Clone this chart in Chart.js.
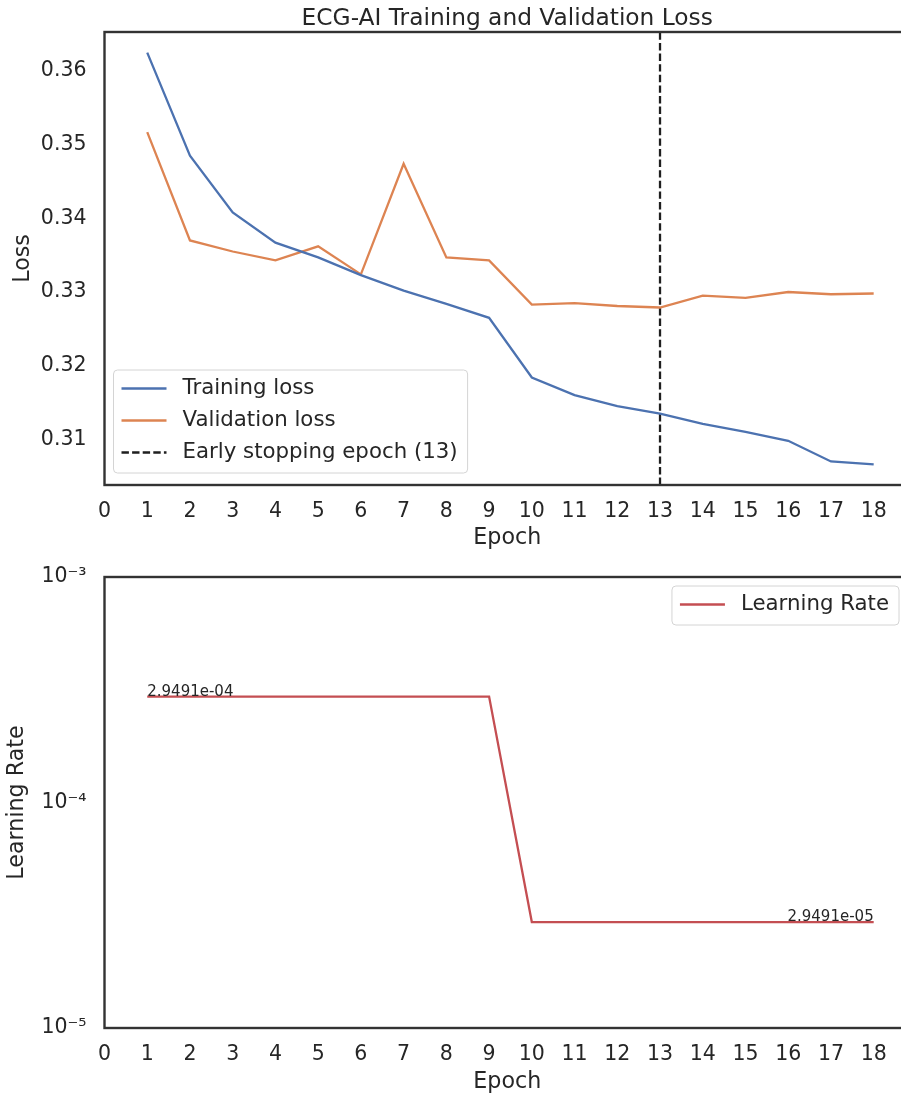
<!DOCTYPE html>
<html>
<head>
<meta charset="utf-8">
<title>ECG-AI Training and Validation Loss</title>
<script src="https://cdn.jsdelivr.net/npm/chart.js@4.4.0/dist/chart.umd.min.js"></script>
<style>
  html, body { margin: 0; padding: 0; background: #fff; overflow: hidden; width: 901px; height: 1099px; }
  .panel { position: absolute; left: 0; }
  #lossPanel { top: 0; }
  #lrPanel { top: 550px; }
  canvas { display: block; }
</style>
</head>
<body>
<div class="panel" id="lossPanel"><canvas id="lossChart" width="920" height="550"></canvas></div>
<div class="panel" id="lrPanel"><canvas id="lrChart" width="920" height="549"></canvas></div>
<script>
// ---- data ----
const epochs = [1, 2, 3, 4, 5, 6, 7, 8, 9, 10, 11, 12, 13, 14, 15, 16, 17, 18];
const trainingLoss = [0.3625, 0.3485, 0.3408, 0.3367, 0.3347, 0.3323, 0.3302, 0.3284, 0.3265,
                      0.3184, 0.3160, 0.3145, 0.3135, 0.3121, 0.3110, 0.3098, 0.3070, 0.3066];
const validationLoss = [0.3517, 0.3370, 0.3355, 0.3343, 0.3362, 0.3324, 0.3474, 0.3347, 0.3343,
                        0.3283, 0.3285, 0.3281, 0.3279, 0.3295, 0.3292, 0.3300, 0.3297, 0.3298];
const learningRate = [2.9491e-4, 2.9491e-4, 2.9491e-4, 2.9491e-4, 2.9491e-4, 2.9491e-4, 2.9491e-4, 2.9491e-4, 2.9491e-4,
                      2.9491e-5, 2.9491e-5, 2.9491e-5, 2.9491e-5, 2.9491e-5, 2.9491e-5, 2.9491e-5, 2.9491e-5, 2.9491e-5];
const earlyStopEpoch = 13;
const epochTicks = [0, 1, 2, 3, 4, 5, 6, 7, 8, 9, 10, 11, 12, 13, 14, 15, 16, 17, 18];
const lossTicks = [0.31, 0.32, 0.33, 0.34, 0.35, 0.36];
const lrTicks = [1e-5, 1e-4, 1e-3];

// ---- style ----
const FONT = "'DejaVu Sans', 'Liberation Sans', sans-serif";
const INK = '#262626';
const SPINE = '#333333';
const BLUE = '#4C72B0';
const ORANGE = '#DD8452';
const RED = '#C44E52';
const TICK_SIZE = 20.5;
const LABEL_SIZE = 22.2;
const LEGEND_SIZE = 21.3;

// axis ranges padded by 5% of the data span
const lossAll = trainingLoss.concat(validationLoss);
const lossLo = Math.min(...lossAll), lossHi = Math.max(...lossAll);
const lossPad = (lossHi - lossLo) * 0.05;
const yMin = lossLo - lossPad, yMax = lossHi + lossPad;
const xMax = epochs[epochs.length - 1] + (epochs[epochs.length - 1] - epochs[0]) * 0.05;

const pts = (ys) => epochs.map((e, i) => ({ x: e, y: ys[i] }));

const SUP = { '-': '\u207B', '0': '\u2070', '1': '\u00B9', '2': '\u00B2', '3': '\u00B3', '4': '\u2074',
              '5': '\u2075', '6': '\u2076', '7': '\u2077', '8': '\u2078', '9': '\u2079' };
function powerOfTen(v) {
  const e = String(Math.round(Math.log10(v)));
  return '10' + e.split('').map(c => SUP[c]).join('');
}
function sci(v) {
  const [m, e] = v.toExponential(4).split('e');
  const n = parseInt(e, 10);
  return m + 'e' + (n < 0 ? '-' : '+') + String(Math.abs(n)).padStart(2, '0');
}

// ---- plugins ----
const frame = {
  id: 'frame',
  afterDatasetsDraw(chart) {
    const { ctx, chartArea: a } = chart;
    ctx.save();
    ctx.strokeStyle = SPINE;
    ctx.lineWidth = 2.4;
    ctx.strokeRect(a.left, a.top, a.right - a.left, a.bottom - a.top);
    ctx.restore();
  }
};

const axesTitle = {
  id: 'axesTitle',
  afterDraw(chart, args, opts) {
    if (!opts.text) return;
    const { ctx, chartArea: a } = chart;
    ctx.save();
    ctx.font = opts.size + 'px ' + FONT;
    ctx.fillStyle = INK;
    ctx.textAlign = 'center';
    ctx.textBaseline = 'alphabetic';
    ctx.fillText(opts.text, (a.left + a.right) / 2, opts.baseline);
    ctx.restore();
  }
};

const boxLegend = {
  id: 'boxLegend',
  afterDraw(chart, args, opts) {
    const { ctx, chartArea: a } = chart;
    const items = chart.data.datasets.filter(d => d.label);
    ctx.save();
    ctx.font = LEGEND_SIZE + 'px ' + FONT;
    const textW = Math.max(...items.map(d => ctx.measureText(d.label).width));
    const w = 69 + textW + 10;
    const h = 39 + (items.length - 1) * 32;
    const x0 = opts.corner === 'lowerLeft' ? a.left + opts.dx : a.right - opts.dx - w;
    const y0 = opts.corner === 'lowerLeft' ? a.bottom - opts.dy - h : a.top + opts.dy;
    ctx.beginPath();
    ctx.roundRect(x0, y0, w, h, 4);
    ctx.fillStyle = 'rgba(255,255,255,0.8)';
    ctx.fill();
    ctx.strokeStyle = '#d4d4d4';
    ctx.lineWidth = 1;
    ctx.stroke();
    items.forEach((d, i) => {
      const y = y0 + 18.5 + i * 32;
      ctx.beginPath();
      ctx.setLineDash(d.borderDash || []);
      ctx.strokeStyle = d.borderColor;
      ctx.lineWidth = d.borderWidth;
      ctx.moveTo(x0 + 8, y);
      ctx.lineTo(x0 + 53, y);
      ctx.stroke();
      ctx.setLineDash([]);
      ctx.fillStyle = INK;
      ctx.textAlign = 'left';
      ctx.textBaseline = 'middle';
      ctx.fillText(d.label, x0 + 69, y);
    });
    ctx.restore();
  }
};

const endLabels = {
  id: 'endLabels',
  afterDatasetsDraw(chart) {
    const { ctx } = chart;
    const ds = chart.data.datasets[0];
    const meta = chart.getDatasetMeta(0);
    const first = meta.data[0], last = meta.data[meta.data.length - 1];
    ctx.save();
    ctx.font = '15px ' + FONT;
    ctx.fillStyle = INK;
    ctx.textBaseline = 'alphabetic';
    ctx.textAlign = 'left';
    ctx.fillText(sci(ds.data[0].y), first.x, first.y - 1);
    ctx.textAlign = 'right';
    ctx.fillText(sci(ds.data[ds.data.length - 1].y), last.x, last.y - 1);
    ctx.restore();
  }
};

function epochAxis(height, titlePadBottom) {
  return {
    type: 'linear',
    min: 0,
    max: xMax,
    grid: { display: false, drawTicks: false },
    border: { display: false },
    afterBuildTicks: (s) => { s.ticks = epochTicks.map(v => ({ value: v })); },
    afterFit: (s) => { s.height = height; s.paddingLeft = 0; s.paddingRight = 0; },
    ticks: { color: INK, font: { family: FONT, size: TICK_SIZE }, padding: 14, maxRotation: 0, autoSkip: false,
             callback: (v) => String(v) },
    title: { display: true, text: 'Epoch', color: INK, font: { family: FONT, size: LABEL_SIZE },
             padding: { top: 0, bottom: titlePadBottom } }
  };
}

// y axes keep a fixed gutter; edge-label overflow must not push the plot area
function fixYGutter(s) { s.width = 104.5; s.paddingTop = 0; s.paddingBottom = 0; }

Chart.defaults.font.family = FONT;
Chart.defaults.color = INK;

// ---- loss panel ----
new Chart(document.getElementById('lossChart'), {
  type: 'line',
  data: {
    datasets: [
      { label: 'Training loss', data: pts(trainingLoss), borderColor: BLUE, borderWidth: 2.3,
        pointRadius: 0, tension: 0, fill: false },
      { label: 'Validation loss', data: pts(validationLoss), borderColor: ORANGE, borderWidth: 2.3,
        pointRadius: 0, tension: 0, fill: false },
      { label: 'Early stopping epoch (' + earlyStopEpoch + ')',
        data: [{ x: earlyStopEpoch, y: yMin }, { x: earlyStopEpoch, y: yMax }],
        borderColor: '#1f1f1f', borderWidth: 2.3, borderDash: [7.4, 3.2], pointRadius: 0, fill: false }
    ]
  },
  options: {
    responsive: false,
    animation: false,
    events: [],
    layout: { padding: { top: 32, right: 10, left: 0, bottom: 0 } },
    plugins: {
      legend: { display: false },
      tooltip: { enabled: false },
      axesTitle: { text: 'ECG-AI Training and Validation Loss', size: 23.3, baseline: 25 },
      boxLegend: { corner: 'lowerLeft', dx: 9, dy: 12 }
    },
    scales: {
      x: epochAxis(65, -1.3),
      y: {
        type: 'linear',
        min: yMin,
        max: yMax,
        grid: { display: false, drawTicks: false },
        border: { display: false },
        afterBuildTicks: (s) => { s.ticks = lossTicks.map(v => ({ value: v })); },
        afterFit: fixYGutter,
        ticks: { color: INK, font: { family: FONT, size: TICK_SIZE }, padding: 18, callback: (v) => v.toFixed(2) },
        title: { display: true, text: 'Loss', color: INK, font: { family: FONT, size: LABEL_SIZE },
                 padding: { top: 10, bottom: 0 } }
      }
    }
  },
  plugins: [frame, axesTitle, boxLegend]
});

// ---- learning-rate panel ----
new Chart(document.getElementById('lrChart'), {
  type: 'line',
  data: {
    datasets: [
      { label: 'Learning Rate', data: pts(learningRate), borderColor: RED, borderWidth: 2.3,
        pointRadius: 0, tension: 0, fill: false }
    ]
  },
  options: {
    responsive: false,
    animation: false,
    events: [],
    layout: { padding: { top: 27, right: 10, left: 0, bottom: 0 } },
    plugins: {
      legend: { display: false },
      tooltip: { enabled: false },
      boxLegend: { corner: 'upperRight', dx: 11, dy: 9 }
    },
    scales: {
      x: epochAxis(71, 3.7),
      y: {
        type: 'logarithmic',
        min: lrTicks[0],
        max: lrTicks[lrTicks.length - 1],
        grid: { display: false, drawTicks: false },
        border: { display: false },
        afterBuildTicks: (s) => { s.ticks = lrTicks.map(v => ({ value: v })); },
        afterFit: fixYGutter,
        ticks: { color: INK, font: { family: FONT, size: TICK_SIZE }, padding: 18, callback: (v) => powerOfTen(v) },
        title: { display: true, text: 'Learning Rate', color: INK, font: { family: FONT, size: LABEL_SIZE },
                 padding: { top: 4, bottom: 0 } }
      }
    }
  },
  plugins: [frame, boxLegend, endLabels]
});
</script>
</body>
</html>
